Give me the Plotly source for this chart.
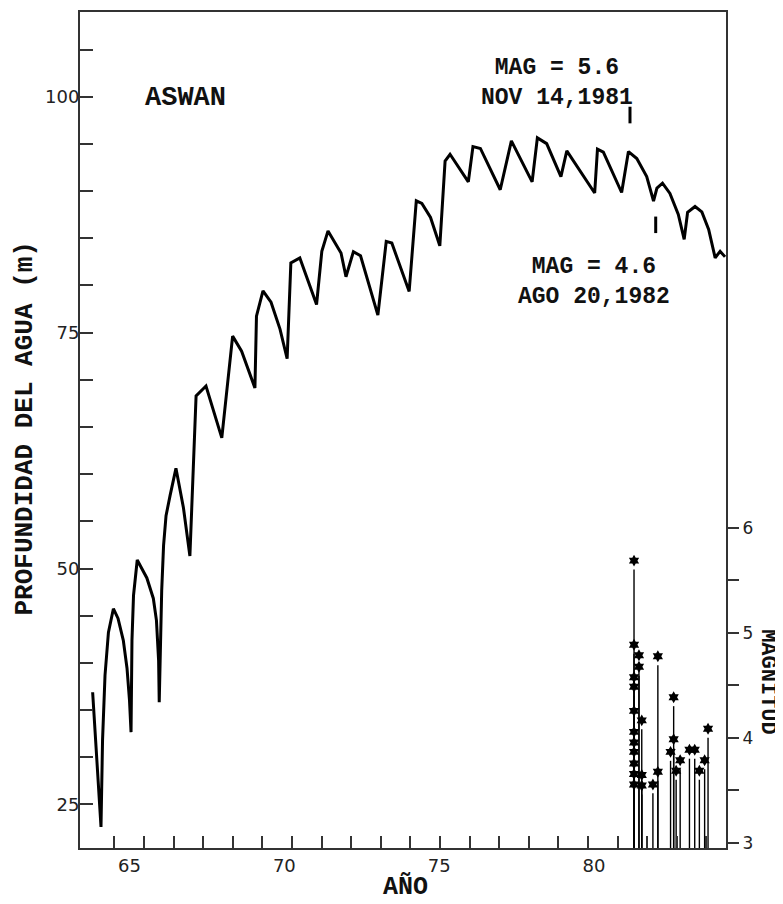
import plotly.graph_objects as go

# ---------------- data ----------------
# water depth curve, x in axis-year units (label "65" = 65), depth in m
YEARS = [63.81, 64.08, 64.13, 64.21, 64.32, 64.48, 64.63, 64.80, 64.92, 65.00,
         65.05, 65.08, 65.13, 65.25, 65.56, 65.77, 65.87, 65.94, 65.96, 66.04,
         66.10, 66.18, 66.31, 66.50, 66.74, 66.95, 67.15, 67.47, 67.98, 68.33,
         68.62, 69.05, 69.10, 69.31, 69.57, 69.86, 70.09, 70.21, 70.50, 71.04,
         71.21, 71.41, 71.83, 71.99, 72.23, 72.46, 73.02, 73.29, 73.47, 74.03,
         74.26, 74.44, 74.72, 75.02, 75.19, 75.35, 75.94, 76.09, 76.33, 76.97,
         77.33, 78.00, 78.17, 78.47, 78.93, 79.12, 80.02, 80.11, 80.30, 80.89,
         81.11, 81.38, 81.70, 81.92, 82.03, 82.21, 82.45, 82.72, 82.91, 83.02,
         83.26, 83.48, 83.70, 83.91, 84.07, 84.23]
DEPTH = [36.89, 22.62, 31.82, 38.69, 43.23, 45.74, 44.71, 42.39, 39.43, 36.05,
         32.66, 42.39, 47.15, 50.90, 49.00, 46.83, 44.50, 40.27, 35.84, 47.67,
         52.43, 55.60, 57.72, 60.62, 56.48, 51.32, 68.29, 69.34, 63.85, 74.63,
         73.04, 69.13, 76.74, 79.42, 78.22, 75.37, 72.23, 82.38, 82.91, 77.98,
         83.62, 85.78, 83.44, 80.92, 83.58, 83.14, 76.85, 84.67, 84.49, 79.36,
         88.97, 88.69, 87.21, 84.20, 93.18, 93.90, 90.98, 94.71, 94.52, 90.14,
         95.32, 90.98, 95.64, 95.03, 91.54, 94.26, 89.80, 94.45, 94.13, 89.85,
         94.19, 93.45, 91.54, 88.95, 90.31, 90.84, 89.75, 87.53, 84.88, 87.74,
         88.37, 87.79, 85.94, 82.93, 83.62, 83.03]

# earthquakes: date (axis-year units) and magnitude
EQ_YEAR = [81.29] * 11 + [81.45] * 2 + [81.54] * 3 + [81.90] + [82.06] * 2 + \
          [82.47] + [82.57] * 2 + [82.65, 82.78, 83.08, 83.25, 83.40, 83.57, 83.68]
EQ_MAG = [5.60, 4.80, 4.49, 4.40, 4.17, 3.97, 3.87, 3.78, 3.67, 3.57, 3.47,
          4.70, 4.59,
          4.08, 3.56, 3.46,
          3.47,
          4.69, 3.59,
          3.78,
          4.30, 3.90,
          3.60, 3.70, 3.80, 3.80, 3.60, 3.70, 4.00]

# labelled events (pointer marks)
EVENT_LABELS = ["MAG = 5.6<br>NOV 14,1981", "MAG = 4.6<br>AGO 20,1982"]
EVENT_MARK_X = [81.16, 81.99]
EVENT_MARK_Y = [[97.18, 98.94], [85.55, 87.30]]

X_LABELS = [65, 70, 75, 80]
Y_LABELS = [25, 50, 75, 100]
MAG_TICKS = [3, 3.5, 4, 4.5, 5, 5.5, 6]
MAG_TICKTEXT = ["3", "", "4", "", "5", "", "6"]

# ---------------- styling constants ----------------
X_RANGE = [63.402, 84.26]
Y_RANGE = [20.38, 108.98]
MAG_RANGE = [2.95, 10.907]
STAR_LIFT = 0.085
XMINOR_START, XMINOR_STEP = 64.51, 0.956
MONO = "Courier New, Liberation Mono, monospace"
SANS = "DejaVu Sans, Verdana, sans-serif"
AX = "#333333"

fig = go.Figure()

fig.add_trace(go.Scatter(x=YEARS, y=DEPTH, mode="lines",
                         line=dict(color="black", width=3),
                         showlegend=False, hoverinfo="skip"))

# stems
sx, sy = [], []
for xv, m in zip(EQ_YEAR, EQ_MAG):
    sx += [xv, xv, None]
    sy += [MAG_RANGE[0], m, None]
fig.add_trace(go.Scatter(x=sx, y=sy, mode="lines", yaxis="y2",
                         line=dict(color="black", width=1.4),
                         showlegend=False, hoverinfo="skip"))
fig.add_trace(go.Scatter(x=EQ_YEAR, y=[m + STAR_LIFT for m in EQ_MAG],
                         mode="markers", yaxis="y2",
                         marker=dict(symbol="hexagram", size=9, color="black",
                                     line=dict(width=0)),
                         showlegend=False, hoverinfo="skip"))

# pointer marks
for xv, (y0, y1) in zip(EVENT_MARK_X, EVENT_MARK_Y):
    fig.add_shape(type="line", x0=xv, x1=xv, y0=y0, y1=y1, xref="x", yref="y",
                  line=dict(color="black", width=3))

minor_x = []
v = XMINOR_START
while v < X_RANGE[1]:
    minor_x.append(round(v, 3))
    v += XMINOR_STEP

# the page body adds an 8px margin, so the figure is shrunk by that amount
fig.update_layout(
    width=775, height=896,
    margin=dict(l=72, r=57, t=2, b=56),
    paper_bgcolor="white", plot_bgcolor="white",
    xaxis=dict(range=X_RANGE, tickmode="array", tickvals=X_LABELS,
               ticks="", showgrid=False, zeroline=False,
               showline=True, mirror=True, linecolor=AX, linewidth=2,
               tickfont=dict(family=SANS, size=18, color="#222"),
               minor=dict(tickmode="array", tickvals=minor_x, ticks="inside",
                          ticklen=12, tickwidth=1.5, tickcolor=AX,
                          showgrid=False)),
    yaxis=dict(range=Y_RANGE, tickmode="array", tickvals=Y_LABELS,
               ticks="inside", ticklen=13, tickwidth=1.5, tickcolor=AX,
               showgrid=False, zeroline=False,
               showline=True, linecolor=AX, linewidth=2,
               ticklabelstandoff=-5,
               tickfont=dict(family=SANS, size=18, color="#222"),
               minor=dict(dtick=5, tick0=0, ticks="inside", ticklen=13,
                          tickwidth=1.5, tickcolor=AX, showgrid=False)),
    yaxis2=dict(range=MAG_RANGE, overlaying="y", side="right", anchor="x",
                tickmode="array", tickvals=MAG_TICKS, ticktext=MAG_TICKTEXT,
                ticks="outside", ticklen=11, tickwidth=1.5, tickcolor=AX,
                showgrid=False, zeroline=False,
                showline=True, linecolor=AX, linewidth=2,
                tickfont=dict(family=SANS, size=17, color="#222")),
)

def txt(s, x, y, size, angle=0):
    fig.add_annotation(text="<b>" + s + "</b>", x=x, y=y, xref="paper", yref="paper",
                       showarrow=False, textangle=angle,
                       xanchor="center", yanchor="middle",
                       font=dict(family=MONO, size=size, color="#111"))

txt("ASWAN", 0.1633, 0.8966, 27)
txt(EVENT_LABELS[0], 0.7385, 0.9145, 23)
txt(EVENT_LABELS[1], 0.796, 0.6767, 23)
txt("PROFUNDIDAD DEL AGUA (m)", -0.0851, 0.5018, 26, -90)
txt("AÑO", 0.5046, -0.0465, 25)
txt("MAGNITUD", 1.065, 0.1984, 22, 90)

fig.write_html("out.html")
